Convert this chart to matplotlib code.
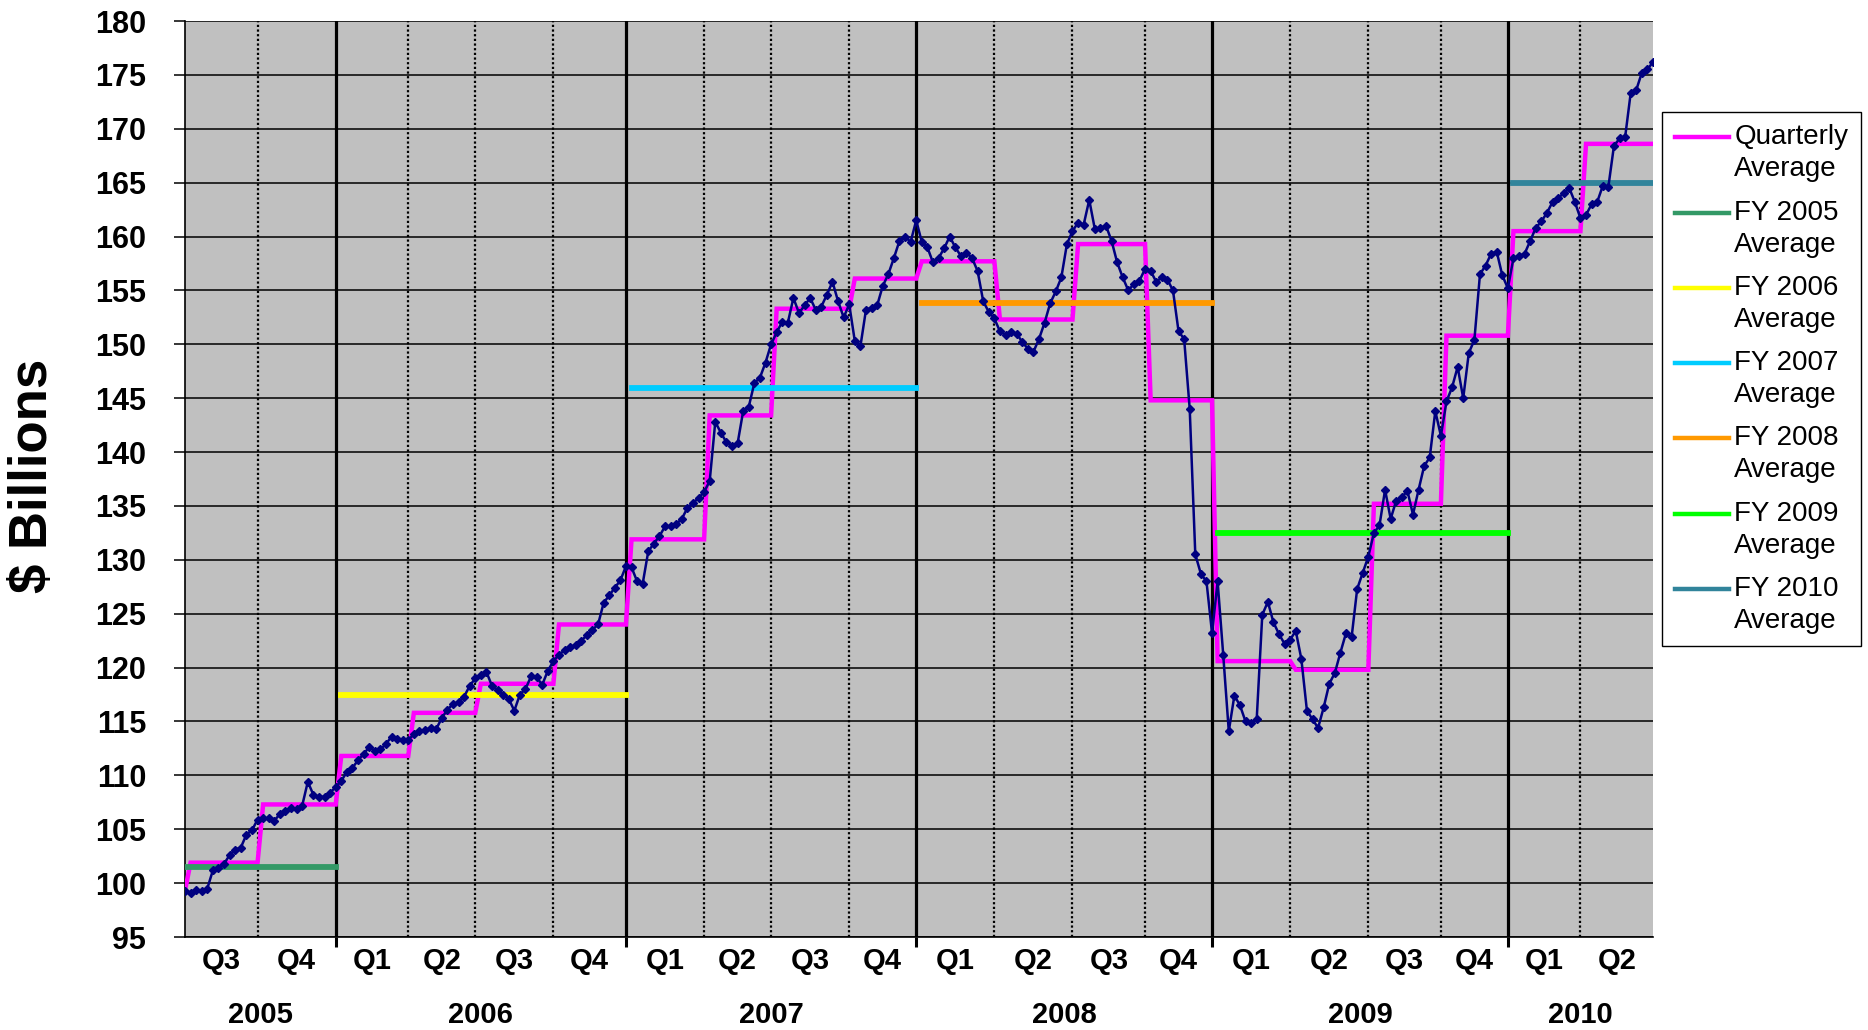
import numpy as np
import matplotlib
matplotlib.use("Agg")
import matplotlib.pyplot as plt
from matplotlib.legend_handler import HandlerLine2D
from matplotlib.lines import Line2D

plt.rcParams['font.family'] = ['Liberation Sans', 'DejaVu Sans']

# ---------------- data (weekly values, $ billions) ----------------
fy2005 = [99.3, 99.1, 99.4, 99.3, 99.5, 101.2, 101.4, 101.8, 102.6, 103.1, 103.3, 104.5, 104.9, 105.9,
          106.0, 106.0, 105.8, 106.4, 106.7, 107.0, 106.9, 107.2, 109.4, 108.2, 108.0, 108.0, 108.4, 108.9]
fy2006 = [109.5, 110.3, 110.7, 111.4, 112.0, 112.6, 112.3, 112.4, 112.9, 113.6, 113.4, 113.3, 113.3,
          113.8, 114.1, 114.2, 114.4, 114.3, 115.3, 116.1, 116.6, 116.8, 117.3, 118.3, 119.0,
          119.3, 119.6, 118.3, 117.9, 117.5, 117.1, 116.0, 117.5, 118.0, 119.2, 119.1, 118.4, 119.7, 120.6,
          121.2, 121.6, 121.9, 122.1, 122.5, 123.0, 123.5, 124.0, 126.0, 126.7, 127.4, 128.1, 129.4]
fy2007 = [129.3, 128.0, 127.8, 130.8, 131.5, 132.2, 133.1, 133.1, 133.3, 133.8, 134.8, 135.3, 135.7, 136.3,
          137.3, 142.8, 141.8, 140.9, 140.6, 140.8, 143.8, 144.2, 146.4, 146.9, 148.3, 150.0,
          151.1, 152.1, 152.0, 154.3, 152.9, 153.6, 154.3, 153.2, 153.5, 154.6, 155.8, 154.0, 152.5, 153.7,
          150.3, 149.8, 153.2, 153.4, 153.6, 155.4, 156.5, 158.0, 159.6, 160.0, 159.5, 161.5]
fy2008 = [159.5, 159.0, 157.6, 158.0, 158.9, 160.0, 159.0, 158.2, 158.5, 158.0, 156.8, 154.0, 153.0, 152.4,
          151.2, 150.9, 151.1, 151.0, 150.2, 149.6, 149.3, 150.5, 152.0, 153.8, 154.9, 156.2, 159.3, 160.5,
          161.3, 161.1, 163.4, 160.7, 160.8, 161.0, 159.6, 157.6, 156.2, 155.0, 155.6, 155.9, 157.0,
          156.8, 155.8, 156.2, 156.0, 155.0, 151.2, 150.5, 144.0, 130.5, 128.7, 128.0, 123.2]
fy2009 = [128.0, 121.2, 114.1, 117.4, 116.5, 115.0, 114.9, 115.2, 124.9, 126.1, 124.2, 123.1, 122.2, 122.6,
          123.4, 120.8, 116.0, 115.2, 114.4, 116.3, 118.5, 119.5, 121.4, 123.2, 122.8, 127.3, 128.8, 130.3,
          132.5, 133.2, 136.5, 133.8, 135.5, 135.8, 136.4, 134.2, 136.5, 138.7, 139.5, 143.8, 141.5,
          144.7, 146.0, 147.9, 145.0, 149.2, 150.4, 156.5, 157.3, 158.4, 158.6, 156.4, 155.2]
fy2010 = [158.0, 158.2, 158.4, 159.6, 160.8, 161.4, 162.2, 163.2, 163.6, 164.0, 164.5, 163.2, 161.7,
          162.0, 163.0, 163.2, 164.7, 164.6, 168.4, 169.1, 169.2, 173.3, 173.6, 175.2, 175.5, 176.2]

# last week index of every quarter (weeks counted from start of chart)
quarter_end_week = [13, 27, 40, 52, 66, 79, 93, 105, 119, 131, 145, 159, 172, 184, 198, 212, 225, 237, 250, 263]
quarter_labels = ['Q3', 'Q4', 'Q1', 'Q2', 'Q3', 'Q4', 'Q1', 'Q2', 'Q3', 'Q4',
                  'Q1', 'Q2', 'Q3', 'Q4', 'Q1', 'Q2', 'Q3', 'Q4', 'Q1', 'Q2']
quarterly_avg = [101.9, 107.3, 111.8, 115.8, 118.5, 124.0, 131.9, 143.4, 153.3, 156.1,
                 157.7, 152.3, 159.3, 144.8, 120.6, 119.8, 135.2, 150.8, 160.5, 168.6]

fiscal_years = ['2005', '2006', '2007', '2008', '2009', '2010']
fy_avg = [101.5, 117.5, 145.9, 153.8, 132.5, 165.0]
fy_colors = ['#339966', '#FFFF00', '#00CCFF', '#FF9900', '#00FF00', '#31849B']

# ---------------- derived series ----------------
values = np.concatenate([fy2005, fy2006, fy2007, fy2008, fy2009, fy2010])
weeks = np.arange(len(values))

q_start = [0] + [e + 1 for e in quarter_end_week[:-1]]
q_weekly = np.empty(len(values))
for s, e, a in zip(q_start, quarter_end_week, quarterly_avg):
    q_weekly[s:e + 1] = a
q_weekly[0] = values[0]

year_end_idx = [i for i, l in enumerate(quarter_labels) if l == 'Q4'] + [len(quarter_labels) - 1]
year_end_week = [quarter_end_week[i] for i in year_end_idx]
year_start_week = [0] + [e + 1 for e in year_end_week[:-1]]

# ---------------- figure ----------------
W, H = 1868, 1030
fig = plt.figure(figsize=(W / 100, H / 100), dpi=100)
ax = fig.add_axes([185 / W, 1 - 937 / H, (1653 - 185) / W, (937 - 21) / H])
ax.set_facecolor('#C0C0C0')

ax.set_xlim(0, weeks[-1])
ax.set_ylim(95, 180)
yticks = list(range(95, 181, 5))
ax.set_yticks(yticks)
ax.set_yticklabels([str(v) for v in yticks], fontsize=22, fontweight='bold')
ax.tick_params(axis='y', direction='out', length=8, width=1.1, pad=20, color='black')
ax.set_xticks(year_end_week[:-1])
ax.set_xticklabels([])
ax.tick_params(axis='x', direction='out', length=7, width=2.2, color='black')

ax.set_axisbelow(True)
ax.yaxis.grid(True, color='black', linewidth=1.1)
ax.xaxis.grid(False)
for sp in ['top', 'right']:
    ax.spines[sp].set_visible(False)
ax.spines['left'].set_linewidth(1.2)
ax.spines['bottom'].set_linewidth(1.2)

# quarter / year dividers
for i, e in enumerate(quarter_end_week[:-1]):
    if quarter_labels[i] == 'Q4':
        ax.axvline(e, color='black', linewidth=2.3, zorder=1)
    else:
        ax.axvline(e, color='black', linewidth=1.6, linestyle=(0, (1, 1.1)), zorder=1)

# quarterly average
q_line, = ax.plot(weeks, q_weekly, color='#FF00FF', linewidth=3.2, zorder=3,
                  label='Quarterly\nAverage', solid_joinstyle='miter')

# fiscal-year averages
fy_lines = []
for y, a, c, s, e in zip(fiscal_years, fy_avg, fy_colors, year_start_week, year_end_week):
    ln, = ax.plot([s, e], [a, a], color=c, linewidth=4.2, zorder=4, label=f'FY {y}\nAverage')
    fy_lines.append(ln)

# weekly data
ax.plot(weeks, values, color='#000080', linewidth=1.8, marker='D', markersize=4.3,
        markerfacecolor='#000080', markeredgecolor='#000080', zorder=5)

# category labels
xt = ax.get_xaxis_transform()
prev = 0
for lab, e in zip(quarter_labels, quarter_end_week):
    ax.text((prev + e) / 2, -0.026, lab, transform=xt, ha='center', va='center',
            fontsize=21, fontweight='bold')
    prev = e
prev = 0
for y, e in zip(fiscal_years, year_end_week):
    ax.text((prev + e) / 2, -0.085, y, transform=xt, ha='center', va='center',
            fontsize=21, fontweight='bold')
    prev = e

fig.text(33 / W, 1 - 476 / H, r'\$ Billions', rotation=90, fontsize=38, fontweight='bold',
         ha='center', va='center')


class TopLineHandler(HandlerLine2D):
    def __init__(self, shift, **kw):
        super().__init__(**kw)
        self.shift = shift

    def create_artists(self, legend, orig_handle, xdescent, ydescent, width, height, fontsize, trans):
        arts = super().create_artists(legend, orig_handle, xdescent, ydescent, width, height,
                                      fontsize, trans)
        for a in arts:
            a.set_ydata(np.asarray(a.get_ydata()) + self.shift)
        return arts


handles = [q_line] + fy_lines
labels = [h.get_label() for h in handles]
leg = ax.legend(handles, labels, loc='upper left', bbox_to_anchor=(1662 / W, 1 - 112 / H),
                bbox_transform=fig.transFigure, fontsize=20, frameon=True, fancybox=False,
                edgecolor='black', facecolor='white', framealpha=1, handlelength=1.95,
                handletextpad=0.2, labelspacing=0.62, borderpad=0.45, borderaxespad=0,
                handler_map={Line2D: TopLineHandler(11.8)})
leg.get_frame().set_linewidth(1.0)
for t in leg.get_texts():
    t.set_linespacing(1.3)
for ln in leg.get_lines():
    ln.set_linewidth(3.2)

fig.savefig('out.png', dpi=100, facecolor='white')
